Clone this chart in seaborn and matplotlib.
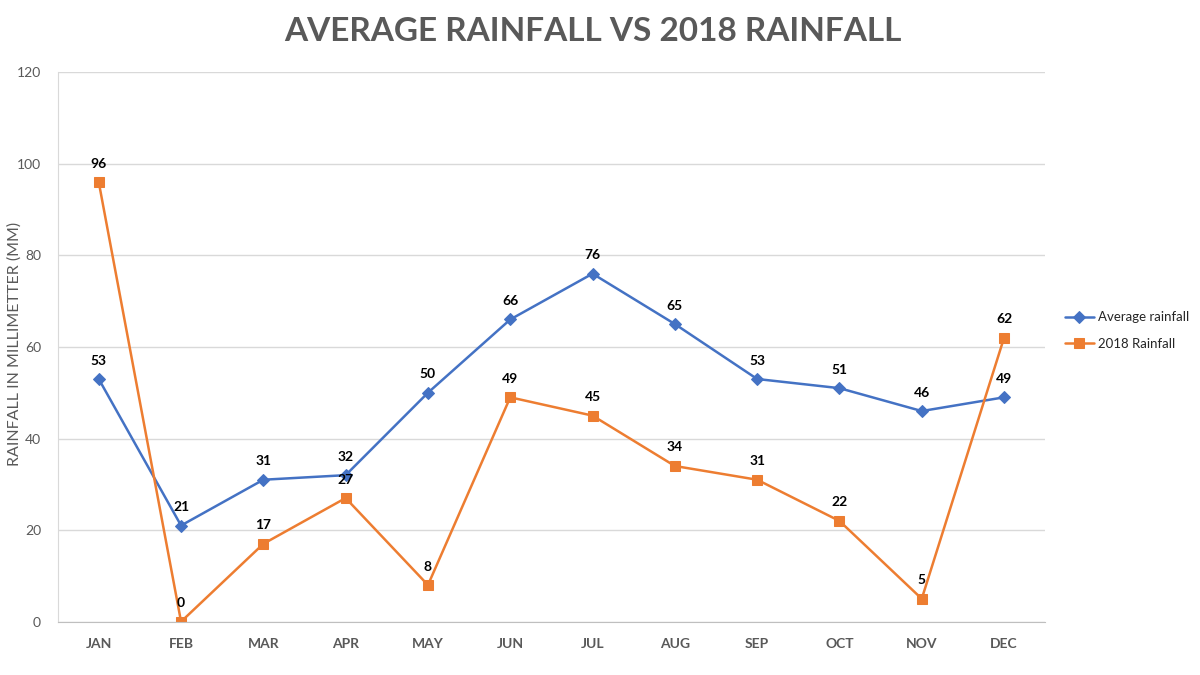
import matplotlib
matplotlib.use("Agg")
import matplotlib.pyplot as plt
import seaborn as sns
import pandas as pd

# dados do gráfico
meses = ["JAN", "FEB", "MAR", "APR", "MAY", "JUN", "JUL", "AUG", "SEP", "OCT", "NOV", "DEC"]
media = [53, 21, 31, 32, 50, 66, 76, 65, 53, 51, 46, 49]
chuva_2018 = [96, 0, 17, 27, 8, 49, 45, 34, 31, 22, 5, 62]

sns.set_style("white")
plt.rcParams["font.family"] = ["Lato", "DejaVu Sans"]

df = pd.DataFrame({"mes": meses, "pos": range(len(meses)),
                   "Average rainfall": media, "2018 Rainfall": chuva_2018})

fig = plt.figure(figsize=(12, 6.75), dpi=100)
ax = fig.add_axes([0.048, 0.079, 0.823, 0.814])

azul = "#4472C4"
laranja = "#ED7D31"

sns.lineplot(data=df, x="pos", y="Average rainfall", color=azul, marker="D",
             markersize=6, linewidth=1.8, markeredgecolor=azul, label="Average rainfall", ax=ax)
sns.lineplot(data=df, x="pos", y="2018 Rainfall", color=laranja, marker="s",
             markersize=7, linewidth=1.8, markeredgecolor=laranja, label="2018 Rainfall", ax=ax)

# rótulos dos pontos
for i, (a, b) in enumerate(zip(media, chuva_2018)):
    for v in (a, b):
        ax.annotate(str(v), (i, v), xytext=(0, 9), textcoords="offset points",
                    ha="center", va="bottom", fontsize=10, fontweight="bold", color="#000000")

ax.set_xlim(-0.5, len(meses) - 0.5)
ax.set_ylim(0, 120)
ax.set_yticks(range(0, 121, 20))
ax.set_xticks(range(len(meses)))
ax.set_xticklabels(meses, fontsize=10, fontweight="bold", color="#595959")
ax.set_xticks([i - 0.5 for i in range(len(meses) + 1)], minor=True)
ax.tick_params(axis="x", which="major", length=0, pad=12)
ax.tick_params(axis="x", which="minor", length=5, color="#BFBFBF", direction="out")
ax.tick_params(axis="y", length=0, labelsize=10, labelcolor="#595959", pad=12)
ax.grid(axis="y", color="#D9D9D9", linewidth=1)
ax.set_axisbelow(True)

for lado in ["top", "right"]:
    ax.spines[lado].set_visible(False)
ax.spines["left"].set_color("#D9D9D9")
ax.spines["bottom"].set_color("#BFBFBF")

ax.set_xlabel("")
ax.set_ylabel("")
# nome do eixo y posicionado a mão para não ser cortado
fig.text(0.012, 0.49, "RAINFALL IN MILLIMETTER (MM)", rotation=90, ha="center", va="center",
         fontsize=11.5, color="#595959")

fig.suptitle("AVERAGE RAINFALL VS 2018 RAINFALL", x=0.494, y=0.975, fontsize=24,
             fontweight="bold", color="#595959")

ax.legend(loc="center left", bbox_to_anchor=(1.008, 0.53), frameon=False, fontsize=9.5,
          handlelength=2.2, handletextpad=0.3, labelspacing=1.1)

fig.savefig("out.png", dpi=100)
